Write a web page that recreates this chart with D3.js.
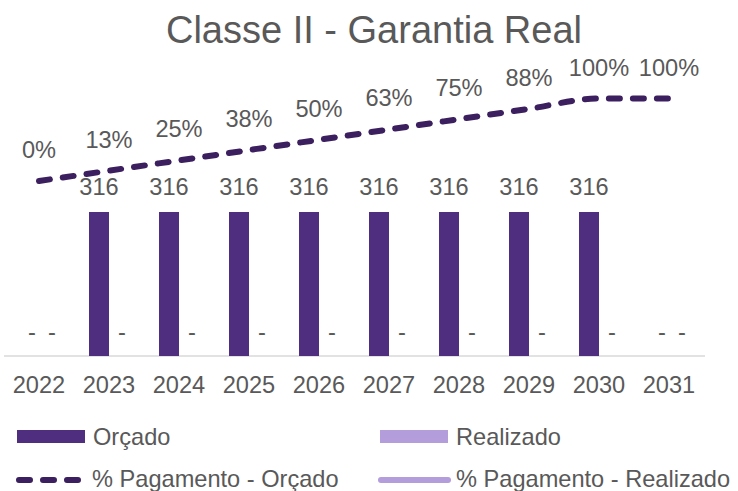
<!DOCTYPE html>
<html>
<head>
<meta charset="utf-8">
<script src="https://cdn.jsdelivr.net/npm/d3@7"></script>
<style>
  html, body { margin: 0; padding: 0; background: #fff; }
  svg { display: block; font-family: "Liberation Sans", Arial, sans-serif; }
</style>
</head>
<body>
<div id="chart"></div>
<script>
// chart data
const years = ['2022', '2023', '2024', '2025', '2026', '2027', '2028', '2029', '2030', '2031'];
const orcado = [0, 316, 316, 316, 316, 316, 316, 316, 316, 0];
const realizado = [0, 0, 0, 0, 0, 0, 0, 0, 0, 0];
const pctOrcado = [0, 0.125, 0.25, 0.375, 0.5, 0.625, 0.75, 0.875, 1, 1];
const pctRealizado = [null, null, null, null, null, null, null, null, null, null];
const seriesNames = ['Orçado', 'Realizado'];
const title = 'Classe II - Garantia Real';

const width = 738;
const height = 491;
const fontSize = 23.6;
const textColor = '#595959';
const colors = { 'Orçado': '#4F2D7F', 'Realizado': '#B39DDB' };
const lineColor = '#3C1F5E';

const svg = d3.select('#chart')
  .append('svg')
  .attr('width', width)
  .attr('height', height);

svg.append('text')
  .attr('x', 374)
  .attr('y', 43)
  .attr('text-anchor', 'middle')
  .attr('fill', textColor)
  .attr('font-size', 38)
  .text(title);

// scales
const x = d3.scaleBand().domain(years).range([4, 704]).padding(0);
const xInner = d3.scaleBand().domain(seriesNames).range([15, 55]).padding(0);
const y = d3.scaleLinear().domain([0, 350]).range([356, 196.5]);
const yPct = d3.scaleLinear().domain([0, 1]).range([181, 98.5]);

const rows = years.map((yr, i) => ({ year: yr, 'Orçado': orcado[i], 'Realizado': realizado[i] }));

// baseline
svg.append('line')
  .attr('x1', x.range()[0]).attr('x2', x.range()[1] + 1)
  .attr('y1', y(0)).attr('y2', y(0))
  .attr('stroke', '#D9D9D9')
  .attr('stroke-width', 1.5);

// bars
const groups = svg.append('g')
  .selectAll('g')
  .data(rows)
  .join('g')
  .attr('transform', d => `translate(${x(d.year)},0)`);

groups.selectAll('rect')
  .data(d => seriesNames.map(k => ({ key: k, value: d[k] })))
  .join('rect')
  .attr('x', d => xInner(d.key))
  .attr('width', xInner.bandwidth())
  .attr('y', d => y(d.value))
  .attr('height', d => y(0) - y(d.value))
  .attr('fill', d => colors[d.key]);

groups.selectAll('text')
  .data(d => seriesNames.map(k => ({ key: k, value: d[k] })))
  .join('text')
  .attr('x', d => xInner(d.key) + xInner.bandwidth() / 2 + (d.value === 0 ? 3 : 0))
  .attr('y', d => y(d.value) - 16.5)
  .attr('text-anchor', 'middle')
  .attr('fill', textColor)
  .attr('font-size', fontSize)
  .text(d => d.value === 0 ? '-' : d.value);

// x axis labels
svg.append('g')
  .selectAll('text')
  .data(years)
  .join('text')
  .attr('x', d => x(d) + x.bandwidth() / 2)
  .attr('y', 393)
  .attr('text-anchor', 'middle')
  .attr('fill', textColor)
  .attr('font-size', fontSize)
  .text(d => d);

// % line
const line = d3.line()
  .defined(d => d.v !== null)
  .curve(d3.curveMonotoneX)
  .x(d => x(d.year) + x.bandwidth() / 2)
  .y(d => yPct(d.v));

const pctData = years.map((yr, i) => ({ year: yr, v: pctOrcado[i] }));
const pctDataR = years.map((yr, i) => ({ year: yr, v: pctRealizado[i] }));

svg.append('path')
  .datum(pctData)
  .attr('fill', 'none')
  .attr('stroke', lineColor)
  .attr('stroke-width', 6)
  .attr('stroke-linecap', 'round')
  .attr('stroke-dasharray', '11 13')
  .attr('d', line);

svg.append('path')
  .datum(pctDataR)
  .attr('fill', 'none')
  .attr('stroke', colors['Realizado'])
  .attr('stroke-width', 6)
  .attr('stroke-linecap', 'round')
  .attr('d', line);

svg.append('g')
  .selectAll('text')
  .data(pctData)
  .join('text')
  .attr('x', d => x(d.year) + x.bandwidth() / 2)
  .attr('y', d => yPct(d.v) - 23)
  .attr('text-anchor', 'middle')
  .attr('fill', textColor)
  .attr('font-size', fontSize)
  .text(d => Math.round(d.v * 100) + '%');

// legend
const legend = svg.append('g');

legend.append('rect')
  .attr('x', 17).attr('y', 430).attr('width', 68).attr('height', 13)
  .attr('fill', colors['Orçado']);
legend.append('text')
  .attr('x', 93).attr('y', 445)
  .attr('fill', textColor).attr('font-size', fontSize)
  .text('Orçado');

legend.append('rect')
  .attr('x', 380).attr('y', 430).attr('width', 68).attr('height', 13)
  .attr('fill', colors['Realizado']);
legend.append('text')
  .attr('x', 456).attr('y', 445)
  .attr('fill', textColor).attr('font-size', fontSize)
  .text('Realizado');

legend.append('line')
  .attr('x1', 19).attr('x2', 78).attr('y1', 480).attr('y2', 480)
  .attr('stroke', lineColor).attr('stroke-width', 6)
  .attr('stroke-linecap', 'round')
  .attr('stroke-dasharray', '11 13');
legend.append('text')
  .attr('x', 92).attr('y', 487)
  .attr('fill', textColor).attr('font-size', fontSize)
  .text('% Pagamento - Orçado');

legend.append('line')
  .attr('x1', 381).attr('x2', 448).attr('y1', 480).attr('y2', 480)
  .attr('stroke', colors['Realizado']).attr('stroke-width', 6)
  .attr('stroke-linecap', 'round');
legend.append('text')
  .attr('x', 456).attr('y', 487)
  .attr('fill', textColor).attr('font-size', fontSize)
  .text('% Pagamento - Realizado');
</script>
</body>
</html>
